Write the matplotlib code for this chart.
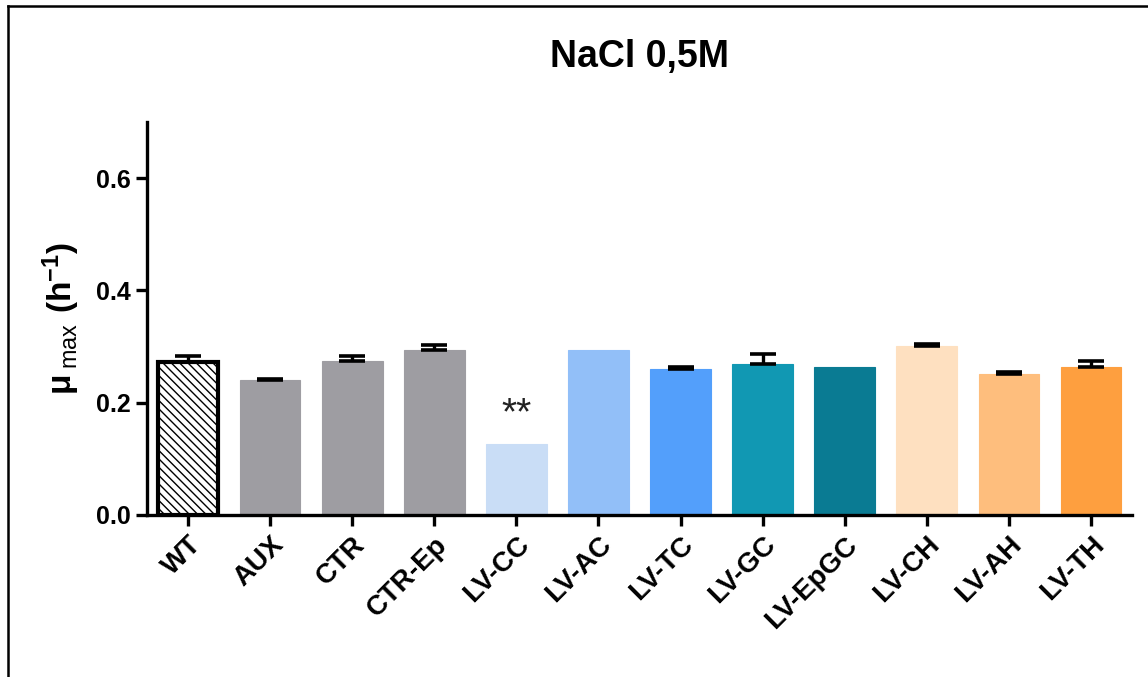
import matplotlib
matplotlib.use('Agg')
from matplotlib import pyplot as plt
from matplotlib.lines import Line2D

plt.rcParams['font.family'] = ['Liberation Sans', 'DejaVu Sans']
plt.rcParams['mathtext.fontset'] = 'custom'
plt.rcParams['mathtext.rm'] = 'Liberation Sans'
plt.rcParams['mathtext.bf'] = 'Liberation Sans:bold'

strains = ['WT', 'AUX', 'CTR', 'CTR-Ep', 'LV-CC', 'LV-AC', 'LV-TC',
           'LV-GC', 'LV-EpGC', 'LV-CH', 'LV-AH', 'LV-TH']
mu_max = [0.272, 0.240, 0.274, 0.294, 0.126, 0.294, 0.260,
          0.269, 0.264, 0.301, 0.251, 0.264]
sem = [0.012, 0.003, 0.009, 0.009, 0.0, 0.0, 0.003,
       0.017, 0.0, 0.003, 0.003, 0.010]
bar_colors = ['white', '#9e9da2', '#9e9da2', '#9e9da2', '#c9ddf6', '#92bff8',
              '#539ffb', '#1198b3', '#0a7b93', '#fee0c0', '#febe7d', '#fe9f3f']
significance = {'LV-CC': '**'}

fig = plt.figure(figsize=(11.48, 6.77), dpi=100)
ax = fig.add_axes([147 / 1148, 1 - 515 / 677, (1132 - 147) / 1148, (515 - 122) / 677])

x = range(len(strains))
bars = ax.bar(x, mu_max, width=0.74, color=bar_colors, edgecolor=bar_colors,
              linewidth=0.8, zorder=2)
# WT is the hatched reference bar
bars[0].set_edgecolor('black')
bars[0].set_linewidth(3.0)
bars[0].set_hatch('\\\\\\\\')

for xi, m, e in zip(x, mu_max, sem):
    if e > 0:
        ax.errorbar(xi, m, yerr=[[0], [e]], fmt='none', ecolor='black',
                    elinewidth=2.4, capsize=9.5, capthick=2.6, zorder=3)

for name, mark in significance.items():
    i = strains.index(name)
    ax.text(i, mu_max[i] + 0.022, mark, ha='center', va='bottom',
            fontsize=28, color='#222222')

ax.set_xlim(-0.5, 11.5)
ax.set_ylim(0, 0.7)
ax.set_yticks([0.0, 0.2, 0.4, 0.6])
ax.set_yticklabels(['0.0', '0.2', '0.4', '0.6'], fontsize=18, fontweight='bold')
ax.set_xticks(list(x))
ax.set_xticklabels(strains, rotation=45, ha='right', rotation_mode='anchor',
                   fontsize=20, fontweight='bold')
ax.tick_params(axis='both', length=8, width=2.4, pad=4)

for side in ['top', 'right']:
    ax.spines[side].set_visible(False)
for side in ['left', 'bottom']:
    ax.spines[side].set_linewidth(2.4)

ax.set_ylabel(r'$\mathbf{\mu}\,_{\mathrm{max}}\ \mathbf{(h^{-1})}$', fontsize=24, labelpad=10)
fig.text(640 / 1148, 1 - 57 / 677, 'NaCl 0,5M', ha='center', va='center',
         fontsize=27, fontweight='bold')

# outer frame lines (top and left only)
fig.add_artist(Line2D([8 / 1148, 1.0], [1 - 6 / 677, 1 - 6 / 677], color='black', linewidth=1.8))
fig.add_artist(Line2D([8 / 1148, 8 / 1148], [0.0, 1 - 6 / 677], color='black', linewidth=1.8))

fig.savefig('out.png', dpi=100)
